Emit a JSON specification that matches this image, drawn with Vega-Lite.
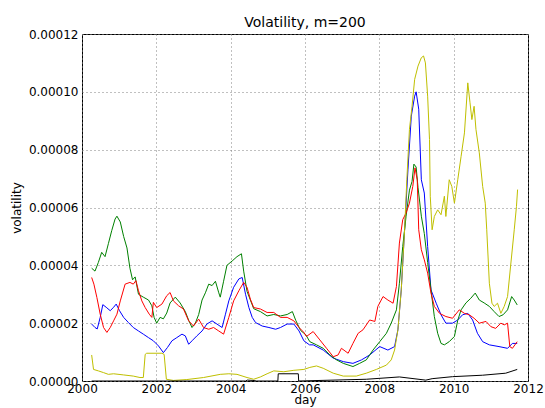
{
  "$schema": "https://vega.github.io/schema/vega-lite/v6.json",
  "width": 446,
  "height": 347,
  "autosize": {"type": "none"},
  "padding": {"left": 82, "top": 34, "right": 17, "bottom": 27},
  "background": "#ffffff",
  "title": {"text": "Volatility, m=200", "fontSize": 14, "fontWeight": "normal", "font": "DejaVu Sans", "color": "#000", "offset": -2, "frame": "group"},
  "datasets": {
    "blue": [
      {"day": 2000.26, "v": 1.97e-5}, {"day": 2000.35, "v": 1.85e-5}, {"day": 2000.41, "v": 1.8e-5}, {"day": 2000.49, "v": 2.2e-5},
      {"day": 2000.56, "v": 2.64e-5}, {"day": 2000.65, "v": 2.55e-5}, {"day": 2000.76, "v": 2.43e-5}, {"day": 2000.85, "v": 2.55e-5},
      {"day": 2000.92, "v": 2.66e-5}, {"day": 2001.01, "v": 2.43e-5}, {"day": 2001.12, "v": 2.2e-5}, {"day": 2001.25, "v": 2.02e-5},
      {"day": 2001.38, "v": 1.85e-5}, {"day": 2001.52, "v": 1.73e-5}, {"day": 2001.65, "v": 1.62e-5}, {"day": 2001.79, "v": 1.5e-5},
      {"day": 2001.92, "v": 1.39e-5}, {"day": 2002.06, "v": 1.21e-5}, {"day": 2002.19, "v": 0.98e-5}, {"day": 2002.30, "v": 1.16e-5},
      {"day": 2002.42, "v": 1.39e-5}, {"day": 2002.55, "v": 1.5e-5}, {"day": 2002.69, "v": 1.62e-5}, {"day": 2002.78, "v": 1.56e-5},
      {"day": 2002.87, "v": 1.27e-5}, {"day": 2002.96, "v": 1.39e-5}, {"day": 2003.09, "v": 1.56e-5}, {"day": 2003.23, "v": 1.73e-5},
      {"day": 2003.36, "v": 1.97e-5}, {"day": 2003.50, "v": 2.08e-5}, {"day": 2003.63, "v": 1.97e-5}, {"day": 2003.77, "v": 1.85e-5},
      {"day": 2003.86, "v": 2.31e-5}, {"day": 2003.95, "v": 2.77e-5}, {"day": 2004.08, "v": 3.24e-5}, {"day": 2004.22, "v": 3.53e-5},
      {"day": 2004.31, "v": 3.58e-5}, {"day": 2004.40, "v": 3.0e-5}, {"day": 2004.49, "v": 2.54e-5}, {"day": 2004.58, "v": 2.2e-5},
      {"day": 2004.67, "v": 2.02e-5}, {"day": 2004.85, "v": 1.9e-5}, {"day": 2005.03, "v": 1.85e-5}, {"day": 2005.21, "v": 1.79e-5},
      {"day": 2005.34, "v": 1.85e-5}, {"day": 2005.52, "v": 1.97e-5}, {"day": 2005.70, "v": 1.97e-5}, {"day": 2005.84, "v": 1.73e-5},
      {"day": 2005.97, "v": 1.39e-5}, {"day": 2006.12, "v": 1.25e-5}, {"day": 2006.22, "v": 1.25e-5}, {"day": 2006.49, "v": 1.07e-5},
      {"day": 2006.76, "v": 0.79e-5}, {"day": 2007.03, "v": 0.67e-5}, {"day": 2007.29, "v": 0.61e-5}, {"day": 2007.52, "v": 0.73e-5},
      {"day": 2007.74, "v": 0.9e-5}, {"day": 2008.01, "v": 1.19e-5}, {"day": 2008.23, "v": 1.07e-5}, {"day": 2008.41, "v": 1.19e-5},
      {"day": 2008.50, "v": 1.77e-5}, {"day": 2008.59, "v": 3.15e-5}, {"day": 2008.68, "v": 5.23e-5}, {"day": 2008.77, "v": 7.3e-5},
      {"day": 2008.86, "v": 9.16e-5}, {"day": 2008.95, "v": 9.85e-5}, {"day": 2008.99, "v": 10.0e-5}, {"day": 2009.06, "v": 9.4e-5},
      {"day": 2009.13, "v": 6.96e-5}, {"day": 2009.21, "v": 6.5e-5}, {"day": 2009.30, "v": 4.65e-5}, {"day": 2009.39, "v": 3.15e-5},
      {"day": 2009.53, "v": 2.69e-5}, {"day": 2009.66, "v": 2.29e-5}, {"day": 2009.79, "v": 2.0e-5}, {"day": 2009.97, "v": 2.0e-5},
      {"day": 2010.11, "v": 2.11e-5}, {"day": 2010.24, "v": 2.29e-5}, {"day": 2010.38, "v": 2.34e-5}, {"day": 2010.51, "v": 2.11e-5},
      {"day": 2010.64, "v": 1.65e-5}, {"day": 2010.78, "v": 1.36e-5}, {"day": 2010.96, "v": 1.25e-5}, {"day": 2011.22, "v": 1.19e-5},
      {"day": 2011.45, "v": 1.13e-5}, {"day": 2011.58, "v": 1.3e-5}, {"day": 2011.71, "v": 1.3e-5}
    ],
    "green": [
      {"day": 2000.26, "v": 3.9e-5}, {"day": 2000.35, "v": 3.8e-5}, {"day": 2000.44, "v": 4.1e-5}, {"day": 2000.53, "v": 4.45e-5},
      {"day": 2000.62, "v": 4.3e-5}, {"day": 2000.71, "v": 4.75e-5}, {"day": 2000.80, "v": 5.2e-5}, {"day": 2000.89, "v": 5.6e-5},
      {"day": 2000.94, "v": 5.7e-5}, {"day": 2001.03, "v": 5.5e-5}, {"day": 2001.12, "v": 5.0e-5}, {"day": 2001.21, "v": 4.6e-5},
      {"day": 2001.29, "v": 3.9e-5}, {"day": 2001.36, "v": 3.5e-5}, {"day": 2001.43, "v": 3.6e-5}, {"day": 2001.52, "v": 3.0e-5},
      {"day": 2001.65, "v": 2.9e-5}, {"day": 2001.79, "v": 2.8e-5}, {"day": 2001.88, "v": 2.6e-5}, {"day": 2001.94, "v": 2.2e-5},
      {"day": 2002.01, "v": 2.0e-5}, {"day": 2002.10, "v": 2.2e-5}, {"day": 2002.19, "v": 2.15e-5}, {"day": 2002.28, "v": 2.35e-5},
      {"day": 2002.37, "v": 2.7e-5}, {"day": 2002.51, "v": 2.9e-5}, {"day": 2002.64, "v": 2.7e-5}, {"day": 2002.78, "v": 2.4e-5},
      {"day": 2002.87, "v": 2.1e-5}, {"day": 2002.96, "v": 1.85e-5}, {"day": 2003.05, "v": 2.0e-5}, {"day": 2003.14, "v": 2.3e-5},
      {"day": 2003.23, "v": 2.8e-5}, {"day": 2003.32, "v": 3.05e-5}, {"day": 2003.41, "v": 3.35e-5}, {"day": 2003.50, "v": 3.3e-5},
      {"day": 2003.59, "v": 3.45e-5}, {"day": 2003.68, "v": 3.05e-5}, {"day": 2003.72, "v": 2.9e-5}, {"day": 2003.81, "v": 3.45e-5},
      {"day": 2003.90, "v": 4.0e-5}, {"day": 2004.04, "v": 4.15e-5}, {"day": 2004.17, "v": 4.3e-5}, {"day": 2004.29, "v": 4.4e-5},
      {"day": 2004.35, "v": 3.8e-5}, {"day": 2004.44, "v": 3.1e-5}, {"day": 2004.53, "v": 2.8e-5}, {"day": 2004.62, "v": 2.5e-5},
      {"day": 2004.80, "v": 2.4e-5}, {"day": 2004.98, "v": 2.25e-5}, {"day": 2005.16, "v": 2.3e-5}, {"day": 2005.34, "v": 2.25e-5},
      {"day": 2005.52, "v": 2.3e-5}, {"day": 2005.66, "v": 2.4e-5}, {"day": 2005.75, "v": 2.1e-5}, {"day": 2005.88, "v": 1.75e-5},
      {"day": 2006.02, "v": 1.6e-5}, {"day": 2006.13, "v": 1.36e-5}, {"day": 2006.31, "v": 1.25e-5}, {"day": 2006.49, "v": 1.13e-5},
      {"day": 2006.67, "v": 0.9e-5}, {"day": 2006.85, "v": 0.73e-5}, {"day": 2007.03, "v": 0.61e-5}, {"day": 2007.29, "v": 0.5e-5},
      {"day": 2007.47, "v": 0.61e-5}, {"day": 2007.65, "v": 0.73e-5}, {"day": 2007.83, "v": 1.07e-5}, {"day": 2008.01, "v": 1.36e-5},
      {"day": 2008.19, "v": 1.65e-5}, {"day": 2008.32, "v": 2.0e-5}, {"day": 2008.46, "v": 2.46e-5}, {"day": 2008.54, "v": 3.38e-5},
      {"day": 2008.63, "v": 4.65e-5}, {"day": 2008.72, "v": 5.7e-5}, {"day": 2008.81, "v": 6.6e-5}, {"day": 2008.88, "v": 6.9e-5},
      {"day": 2008.93, "v": 7.5e-5}, {"day": 2008.99, "v": 7.4e-5}, {"day": 2009.04, "v": 6.7e-5}, {"day": 2009.13, "v": 5.7e-5},
      {"day": 2009.21, "v": 5.1e-5}, {"day": 2009.30, "v": 4.1e-5}, {"day": 2009.39, "v": 3.15e-5}, {"day": 2009.48, "v": 2.23e-5},
      {"day": 2009.57, "v": 1.65e-5}, {"day": 2009.66, "v": 1.3e-5}, {"day": 2009.75, "v": 1.25e-5}, {"day": 2009.88, "v": 1.36e-5},
      {"day": 2010.02, "v": 1.54e-5}, {"day": 2010.11, "v": 2.1e-5}, {"day": 2010.20, "v": 2.46e-5}, {"day": 2010.33, "v": 2.7e-5},
      {"day": 2010.46, "v": 2.86e-5}, {"day": 2010.58, "v": 3.04e-5}, {"day": 2010.69, "v": 2.8e-5}, {"day": 2010.82, "v": 2.7e-5},
      {"day": 2010.96, "v": 2.58e-5}, {"day": 2011.09, "v": 2.4e-5}, {"day": 2011.22, "v": 2.23e-5}, {"day": 2011.33, "v": 2.29e-5},
      {"day": 2011.45, "v": 2.46e-5}, {"day": 2011.56, "v": 2.92e-5}, {"day": 2011.63, "v": 2.8e-5}, {"day": 2011.71, "v": 2.63e-5}
    ],
    "red": [
      {"day": 2000.26, "v": 3.58e-5}, {"day": 2000.32, "v": 3.35e-5}, {"day": 2000.40, "v": 2.89e-5}, {"day": 2000.49, "v": 2.31e-5},
      {"day": 2000.58, "v": 1.85e-5}, {"day": 2000.67, "v": 1.68e-5}, {"day": 2000.76, "v": 1.85e-5}, {"day": 2000.85, "v": 2.08e-5},
      {"day": 2000.94, "v": 2.31e-5}, {"day": 2001.03, "v": 2.77e-5}, {"day": 2001.16, "v": 3.35e-5}, {"day": 2001.29, "v": 3.41e-5},
      {"day": 2001.38, "v": 3.35e-5}, {"day": 2001.45, "v": 3.47e-5}, {"day": 2001.52, "v": 3.12e-5}, {"day": 2001.61, "v": 2.77e-5},
      {"day": 2001.70, "v": 2.54e-5}, {"day": 2001.81, "v": 2.31e-5}, {"day": 2001.88, "v": 2.2e-5}, {"day": 2001.92, "v": 2.72e-5},
      {"day": 2002.01, "v": 2.54e-5}, {"day": 2002.15, "v": 2.66e-5}, {"day": 2002.28, "v": 2.95e-5}, {"day": 2002.37, "v": 3.06e-5},
      {"day": 2002.46, "v": 2.77e-5}, {"day": 2002.60, "v": 2.6e-5}, {"day": 2002.73, "v": 2.49e-5}, {"day": 2002.87, "v": 2.08e-5},
      {"day": 2003.00, "v": 1.9e-5}, {"day": 2003.14, "v": 2.14e-5}, {"day": 2003.27, "v": 1.85e-5}, {"day": 2003.41, "v": 1.79e-5},
      {"day": 2003.54, "v": 1.85e-5}, {"day": 2003.68, "v": 1.73e-5}, {"day": 2003.81, "v": 1.62e-5}, {"day": 2003.95, "v": 2.2e-5},
      {"day": 2004.08, "v": 2.77e-5}, {"day": 2004.22, "v": 3.12e-5}, {"day": 2004.35, "v": 3.41e-5}, {"day": 2004.44, "v": 3.24e-5},
      {"day": 2004.53, "v": 2.83e-5}, {"day": 2004.62, "v": 2.54e-5}, {"day": 2004.80, "v": 2.49e-5}, {"day": 2004.98, "v": 2.37e-5},
      {"day": 2005.16, "v": 2.37e-5}, {"day": 2005.34, "v": 2.2e-5}, {"day": 2005.52, "v": 2.2e-5}, {"day": 2005.70, "v": 2.08e-5},
      {"day": 2005.84, "v": 1.85e-5}, {"day": 2005.97, "v": 1.68e-5}, {"day": 2006.04, "v": 1.54e-5}, {"day": 2006.22, "v": 1.71e-5},
      {"day": 2006.40, "v": 1.42e-5}, {"day": 2006.58, "v": 1.13e-5}, {"day": 2006.76, "v": 0.84e-5}, {"day": 2006.89, "v": 0.9e-5},
      {"day": 2006.98, "v": 1.13e-5}, {"day": 2007.16, "v": 0.96e-5}, {"day": 2007.29, "v": 1.3e-5}, {"day": 2007.43, "v": 1.65e-5},
      {"day": 2007.56, "v": 1.77e-5}, {"day": 2007.74, "v": 2.11e-5}, {"day": 2007.88, "v": 2.06e-5}, {"day": 2007.96, "v": 2.58e-5},
      {"day": 2008.10, "v": 2.92e-5}, {"day": 2008.23, "v": 2.8e-5}, {"day": 2008.37, "v": 2.69e-5}, {"day": 2008.46, "v": 3.27e-5},
      {"day": 2008.54, "v": 4.77e-5}, {"day": 2008.63, "v": 5.58e-5}, {"day": 2008.72, "v": 5.81e-5}, {"day": 2008.81, "v": 6.15e-5},
      {"day": 2008.90, "v": 6.73e-5}, {"day": 2008.96, "v": 7.37e-5}, {"day": 2009.02, "v": 6.96e-5}, {"day": 2009.06, "v": 5.23e-5},
      {"day": 2009.13, "v": 4.54e-5}, {"day": 2009.21, "v": 4.19e-5}, {"day": 2009.30, "v": 3.73e-5}, {"day": 2009.39, "v": 3.04e-5},
      {"day": 2009.48, "v": 2.58e-5}, {"day": 2009.62, "v": 2.34e-5}, {"day": 2009.79, "v": 2.23e-5}, {"day": 2009.97, "v": 2.17e-5},
      {"day": 2010.15, "v": 2.46e-5}, {"day": 2010.29, "v": 2.34e-5}, {"day": 2010.42, "v": 2.29e-5}, {"day": 2010.55, "v": 2.17e-5},
      {"day": 2010.69, "v": 2.0e-5}, {"day": 2010.87, "v": 2.06e-5}, {"day": 2011.00, "v": 1.88e-5}, {"day": 2011.13, "v": 1.82e-5},
      {"day": 2011.27, "v": 2.0e-5}, {"day": 2011.36, "v": 1.94e-5}, {"day": 2011.45, "v": 2.0e-5}, {"day": 2011.51, "v": 1.19e-5},
      {"day": 2011.58, "v": 1.13e-5}, {"day": 2011.71, "v": 1.36e-5}
    ],
    "yellow": [
      {"day": 2000.26, "v": 0.9e-5}, {"day": 2000.31, "v": 0.4e-5}, {"day": 2000.44, "v": 0.35e-5}, {"day": 2000.58, "v": 0.29e-5},
      {"day": 2000.71, "v": 0.23e-5}, {"day": 2000.85, "v": 0.25e-5}, {"day": 2001.12, "v": 0.21e-5}, {"day": 2001.38, "v": 0.17e-5},
      {"day": 2001.56, "v": 0.12e-5}, {"day": 2001.65, "v": 0.12e-5}, {"day": 2001.70, "v": 0.92e-5}, {"day": 2001.74, "v": 0.96e-5},
      {"day": 2002.15, "v": 0.96e-5}, {"day": 2002.21, "v": 0.92e-5}, {"day": 2002.27, "v": 0.06e-5}, {"day": 2002.46, "v": 0.02e-5},
      {"day": 2002.82, "v": 0.05e-5}, {"day": 2003.27, "v": 0.12e-5}, {"day": 2003.72, "v": 0.23e-5}, {"day": 2003.95, "v": 0.25e-5},
      {"day": 2004.17, "v": 0.23e-5}, {"day": 2004.44, "v": 0.12e-5}, {"day": 2004.62, "v": 0.06e-5}, {"day": 2004.80, "v": 0.14e-5},
      {"day": 2004.98, "v": 0.25e-5}, {"day": 2005.16, "v": 0.35e-5}, {"day": 2005.43, "v": 0.32e-5}, {"day": 2005.70, "v": 0.37e-5},
      {"day": 2005.97, "v": 0.4e-5}, {"day": 2006.13, "v": 0.47e-5}, {"day": 2006.31, "v": 0.52e-5}, {"day": 2006.49, "v": 0.44e-5},
      {"day": 2006.76, "v": 0.27e-5}, {"day": 2007.03, "v": 0.17e-5}, {"day": 2007.38, "v": 0.17e-5}, {"day": 2007.65, "v": 0.27e-5},
      {"day": 2007.92, "v": 0.4e-5}, {"day": 2008.19, "v": 0.55e-5}, {"day": 2008.32, "v": 0.73e-5}, {"day": 2008.41, "v": 1.07e-5},
      {"day": 2008.50, "v": 1.77e-5}, {"day": 2008.59, "v": 3.15e-5}, {"day": 2008.68, "v": 5.23e-5}, {"day": 2008.74, "v": 6.96e-5},
      {"day": 2008.81, "v": 8.7e-5}, {"day": 2008.88, "v": 9.5e-5}, {"day": 2008.95, "v": 10.43e-5}, {"day": 2009.04, "v": 10.89e-5},
      {"day": 2009.13, "v": 11.18e-5}, {"day": 2009.19, "v": 11.24e-5}, {"day": 2009.24, "v": 11.0e-5}, {"day": 2009.30, "v": 9.85e-5},
      {"day": 2009.35, "v": 8.35e-5}, {"day": 2009.37, "v": 6.39e-5}, {"day": 2009.42, "v": 5.23e-5}, {"day": 2009.48, "v": 5.69e-5},
      {"day": 2009.57, "v": 5.92e-5}, {"day": 2009.66, "v": 5.75e-5}, {"day": 2009.75, "v": 6.39e-5}, {"day": 2009.79, "v": 5.69e-5},
      {"day": 2009.88, "v": 6.96e-5}, {"day": 2009.95, "v": 6.73e-5}, {"day": 2010.02, "v": 6.15e-5}, {"day": 2010.11, "v": 6.96e-5},
      {"day": 2010.20, "v": 7.77e-5}, {"day": 2010.29, "v": 8.58e-5}, {"day": 2010.38, "v": 10.31e-5}, {"day": 2010.44, "v": 9.62e-5},
      {"day": 2010.49, "v": 9.04e-5}, {"day": 2010.55, "v": 9.5e-5}, {"day": 2010.60, "v": 8.7e-5}, {"day": 2010.69, "v": 7.89e-5},
      {"day": 2010.78, "v": 6.73e-5}, {"day": 2010.85, "v": 6.15e-5}, {"day": 2010.89, "v": 5.23e-5}, {"day": 2010.96, "v": 3.38e-5},
      {"day": 2011.03, "v": 2.69e-5}, {"day": 2011.09, "v": 2.58e-5}, {"day": 2011.18, "v": 2.69e-5}, {"day": 2011.27, "v": 2.34e-5},
      {"day": 2011.36, "v": 2.58e-5}, {"day": 2011.45, "v": 2.92e-5}, {"day": 2011.54, "v": 4.08e-5}, {"day": 2011.63, "v": 5.23e-5},
      {"day": 2011.69, "v": 6.04e-5}, {"day": 2011.72, "v": 6.62e-5}
    ],
    "black": [
      {"day": 2000.26, "v": 0.0}, {"day": 2004.40, "v": 0.0}, {"day": 2004.45, "v": 0.03e-5}, {"day": 2004.60, "v": 0.02e-5},
      {"day": 2004.70, "v": 0.0}, {"day": 2005.27, "v": 0.0}, {"day": 2005.28, "v": 0.25e-5}, {"day": 2005.82, "v": 0.25e-5},
      {"day": 2005.83, "v": 0.0}, {"day": 2007.65, "v": 0.06e-5}, {"day": 2008.54, "v": 0.14e-5}, {"day": 2009.25, "v": 0.03e-5},
      {"day": 2009.42, "v": 0.08e-5}, {"day": 2009.97, "v": 0.15e-5}, {"day": 2010.78, "v": 0.2e-5}, {"day": 2011.40, "v": 0.27e-5},
      {"day": 2011.71, "v": 0.4e-5}
    ]
  },
  "encoding": {
    "x": {
      "field": "day", "type": "quantitative",
      "scale": {"domain": [2000, 2012], "nice": false, "zero": false},
      "axis": {"values": [2000, 2002, 2004, 2006, 2008, 2010, 2012], "format": "d", "title": "day", "titlePadding": 0, "labelPadding": 2}
    },
    "y": {
      "field": "v", "type": "quantitative",
      "scale": {"domain": [0, 0.00012], "nice": false},
      "axis": {"values": [0, 0.00002, 0.00004, 0.00006, 0.00008, 0.0001, 0.00012], "format": ".5f", "title": "volatility", "titlePadding": 5}
    }
  },
  "layer": [
    {"data": {"name": "blue"}, "mark": {"type": "line", "color": "#0000ff", "strokeWidth": 1, "clip": true}},
    {"data": {"name": "green"}, "mark": {"type": "line", "color": "#008000", "strokeWidth": 1, "clip": true}},
    {"data": {"name": "red"}, "mark": {"type": "line", "color": "#ff0000", "strokeWidth": 1, "clip": true}},
    {"data": {"name": "yellow"}, "mark": {"type": "line", "color": "#bfbf00", "strokeWidth": 1, "clip": true}},
    {"data": {"name": "black"}, "mark": {"type": "line", "color": "#000000", "strokeWidth": 1, "clip": true}}
  ],
  "config": {
    "font": "DejaVu Sans",
    "view": {"stroke": "#000000", "strokeWidth": 1},
    "axis": {
      "grid": true, "gridColor": "#808080", "gridDash": [1, 3], "gridWidth": 1,
      "domain": false, "ticks": false,
      "labelFont": "DejaVu Sans", "labelFontSize": 12, "labelColor": "#000000", "labelPadding": 4,
      "titleFont": "DejaVu Sans", "titleFontSize": 12, "titleFontWeight": "normal", "titleColor": "#000000",
      "labelFlush": false, "labelOverlap": false
    }
  }
}
